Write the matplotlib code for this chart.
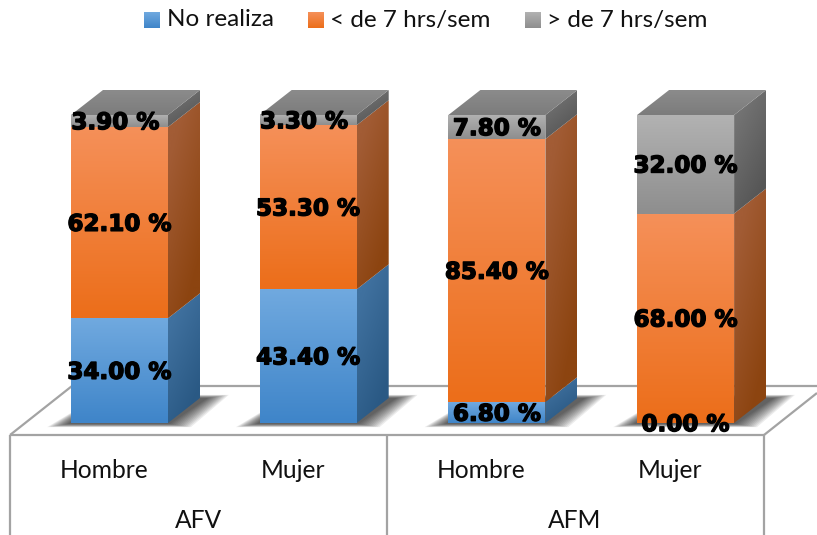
import numpy as np
import matplotlib
matplotlib.use("Agg")
import matplotlib.pyplot as plt
from matplotlib.colors import LinearSegmentedColormap
from matplotlib.patches import Polygon
import matplotlib.patheffects as pe

groups = ["AFV", "AFM"]
sexes = ["Hombre", "Mujer", "Hombre", "Mujer"]
series = ["No realiza", "< de 7 hrs/sem", "> de 7 hrs/sem"]
no_realiza = [34.0, 43.4, 6.8, 0.0]
menos_7 = [62.1, 53.3, 85.4, 68.0]
mas_7 = [3.9, 3.3, 7.8, 32.0]

front_cols = [("#70a9df", "#3f85c9"), ("#f59059", "#ec6e1a"), ("#b2b2b2", "#8e8e8e")]
side_cols = [("#40719f", "#2a5984"), ("#a25c35", "#8c4410"), ("#737373", "#565656")]

W, H = 817, 535
PX_X = 188.7        # pixels between bars
PX_Y = 3.08         # pixels per percent
BAR_W = 97 / PX_X
DX = 32 / PX_X
DY = 25 / PX_Y

fig = plt.figure(figsize=(W / 100, H / 100), dpi=100)
ax = fig.add_axes([0, 0, 1, 1])
ax.axis("off")
xlim = (-119.5 / PX_X, (W - 119.5) / PX_X)
ylim = (-(H - 423) / PX_Y, 423 / PX_Y)


def px(x, y):
    # picture pixels to data units, only for furniture round the bars
    return (x - 119.5) / PX_X, (423 - y) / PX_Y


def gradient(poly, top, bottom, z, slant=0.0):
    xs = [p[0] for p in poly]
    ys = [p[1] for p in poly]
    cmap = LinearSegmentedColormap.from_list("g", [top, bottom])
    u, v = np.meshgrid(np.linspace(0, 1, 16), np.linspace(0, 1, 64))
    im = ax.imshow(np.clip(v + slant * (u - 0.5), 0, 1), cmap=cmap, vmin=0, vmax=1,
                   extent=(min(xs), max(xs), min(ys), max(ys)), origin="upper",
                   aspect="auto", zorder=z, interpolation="bilinear")
    clip = Polygon(poly, closed=True, transform=ax.transData, fc="none", ec="none")
    ax.add_patch(clip)
    im.set_clip_path(clip)


# floor and the table under it
floor = [px(10, 435), px(72, 386), px(817, 386), px(817, 393), px(764, 435)]
ax.add_patch(Polygon(floor, closed=True, fc="white", ec="none", zorder=1))
line_col = "#a3a3a3"
for a, b in [((10, 435), (764, 435)), ((10, 435), (72, 386)), ((72, 386), (817, 386)),
             ((764, 435), (817, 393)), ((10, 435), (10, 535)), ((387, 435), (387, 535)),
             ((764, 435), (764, 535))]:
    p, q = px(*a), px(*b)
    ax.plot([p[0], q[0]], [p[1], q[1]], color=line_col, lw=1.6, zorder=2, solid_capstyle="butt")

values = np.array([no_realiza, menos_7, mas_7])
for i in range(len(sexes)):
    x0 = i - BAR_W / 2
    x1 = i + BAR_W / 2
    # soft shadow on the floor
    for k in range(12):
        g = (11 - k) * 1.9
        sh = [(x0 - (3 + g) / PX_X, -(1 + g * 0.15) / PX_Y), (x1 + (2 + g) / PX_X, -(1 + g * 0.15) / PX_Y),
              (x1 + (40 + g) / PX_X, (25 + g * 0.15) / PX_Y), (x0 + 30 / PX_X, (25 + g * 0.15) / PX_Y)]
        ax.add_patch(Polygon(sh, closed=True, fc="black", ec="none", alpha=0.075, zorder=3))
    bottom = 0.0
    for s in range(3):
        val = values[s, i]
        if val == 0:
            continue
        top = bottom + val
        side = [(x1, bottom), (x1 + DX, bottom + DY), (x1 + DX, top + DY), (x1, top)]
        gradient(side, side_cols[s][0], side_cols[s][1], 4, slant=0.5)
        face = [(x0, bottom), (x1, bottom), (x1, top), (x0, top)]
        gradient(face, front_cols[s][0], front_cols[s][1], 5)
        bottom = top
    roof = [(x0, bottom), (x1, bottom), (x1 + DX, bottom + DY), (x0 + DX, bottom + DY)]
    gradient(roof, "#8b8b8b", "#7c7c7c", 5)

    bottom = 0.0
    for s in range(3):
        val = values[s, i]
        # the small top labels sit a bit left of centre in the original
        nudge = -4 / PX_X if 0 < val < 5 else 0
        ax.text(i + nudge, bottom + val / 2 - 1.7 / PX_Y, "%.2f %%" % val, ha="center", va="center",
                family="DejaVu Sans", weight="bold", fontsize=16.6, color="black", zorder=8,
                path_effects=[pe.withStroke(linewidth=1.0, foreground="black")])
        bottom += val

# axis labels, two rows
label_font = "Lato"
for i, name in enumerate(sexes):
    lx, ly = px(104 + i * PX_X, 470)
    ax.text(lx, ly, name, ha="center", va="center", family=label_font, fontsize=17.7, color="#111111")
for j, name in enumerate(groups):
    lx, ly = px(198 + j * 377, 520)
    ax.text(lx, ly, name, ha="center", va="center", family=label_font, fontsize=17.7, color="#111111")

# legend
for (x_sq, x_txt), name, cols in zip([(144, 167), (308, 330), (525, 547)], series, front_cols):
    a = px(x_sq, 28)
    b = px(x_sq + 16, 12)
    gradient([a, (b[0], a[1]), b, (a[0], b[1])], cols[0], cols[1], 6)
    tx, ty = px(x_txt, 20)
    ax.text(tx, ty, name, ha="left", va="center", family=label_font, fontsize=17.5, color="#111111")

ax.set_xlim(*xlim)
ax.set_ylim(*ylim)
fig.savefig("out.png", dpi=100)
